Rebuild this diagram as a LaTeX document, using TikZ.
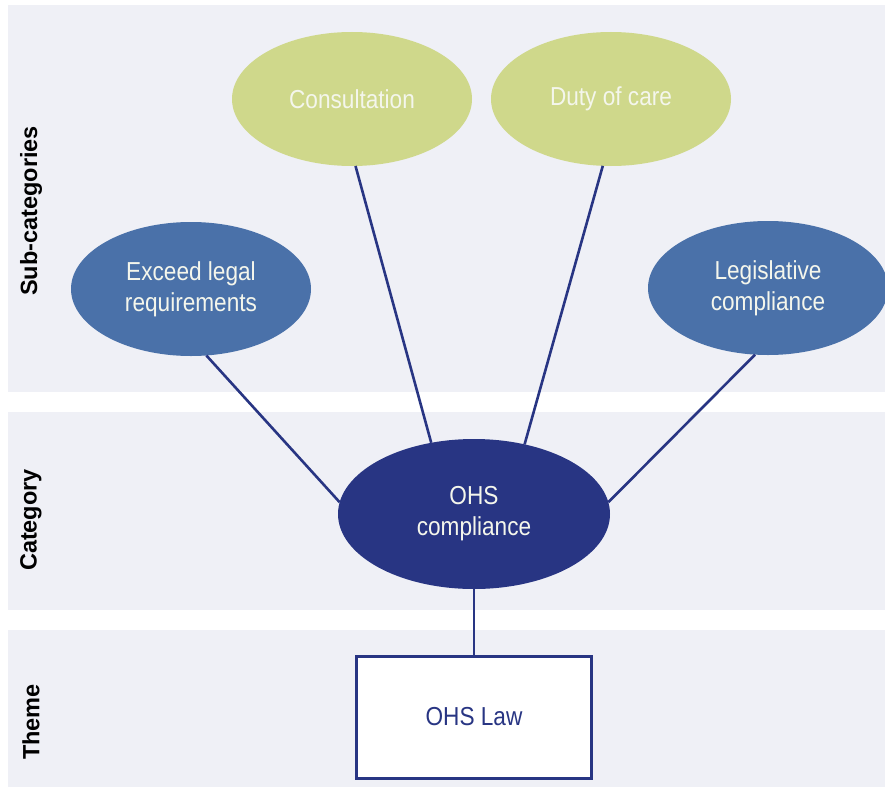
\documentclass[tikz,border=0pt]{standalone}
\usepackage{fontspec}
\setmainfont{Liberation Sans}
\newfontfamily\nodefont{Liberation Sans}[FakeStretch=0.87]
\usetikzlibrary{shapes.geometric}

\definecolor{bandbg}{HTML}{EFF0F6}
\definecolor{leaf}{HTML}{CFD88B}
\definecolor{midblue}{HTML}{4A71A9}
\definecolor{navy}{HTML}{283583}
\definecolor{softwhite}{HTML}{F4F6EC}

\tikzset{
  band/.style={fill=bandbg, draw=none},
  bubble/.style={ellipse, draw=none, inner sep=0pt, outer sep=0pt,
    minimum width=240pt, minimum height=134pt, align=center,
    text=softwhite, font=\nodefont\fontsize{26}{31}\selectfont},
  subleaf/.style={bubble, fill=leaf},
  subblue/.style={bubble, fill=midblue},
  catnode/.style={bubble, fill=navy, minimum width=272pt, minimum height=150pt},
  themebox/.style={draw=navy, line width=3pt, fill=white, text=navy,
    minimum width=235pt, minimum height=122pt, inner sep=0pt,
    font=\nodefont\fontsize{26}{31}\selectfont},
  link/.style={draw=navy, line width=2.6pt},
  sidelabel/.style={rotate=90, font=\bfseries\fontsize{23.5}{26}\selectfont, text=black}
}

\begin{document}
\begin{tikzpicture}[x=1pt, y=-1pt]
  \useasboundingbox (0,0) rectangle (885,789);
  \fill[white] (0,0) rectangle (885,789);

  % horizontal bands
  \fill[band] (8,5) rectangle (885,392);
  \fill[band] (8,412) rectangle (885,610);
  \fill[band] (8,630) rectangle (885,787);

  % band labels
  \node[sidelabel] (lsub) at (31,211) {Sub-categories};
  \node[sidelabel] (lcat) at (31,520) {Category};
  \node[sidelabel] (lthm) at (31,722) {Theme};

  % nodes
  \node[subleaf] (cons) at (352,99) {Consultation};
  \node[subleaf] (duty) at (611,99) {Duty of care};
  \node[subblue] (exc) at (191,289) {Exceed legal\\requirements};
  \node[subblue] (leg) at (768,288) {Legislative\\compliance};
  \node[catnode] (ohs) at (474,514) {OHS\\compliance};
  \node[themebox] (law) at (474,717) {OHS Law};

  % connectors
  \path[link] (exc.-77) -- (ohs.175);
  \path[link] (cons.-87) -- (ohs.121);
  \path[link] (duty.-97) -- (ohs.54);
  \path[link] (leg.-101) -- (ohs.5);
  \path[link] (ohs.south) -- (law.north);
\end{tikzpicture}
\end{document}
